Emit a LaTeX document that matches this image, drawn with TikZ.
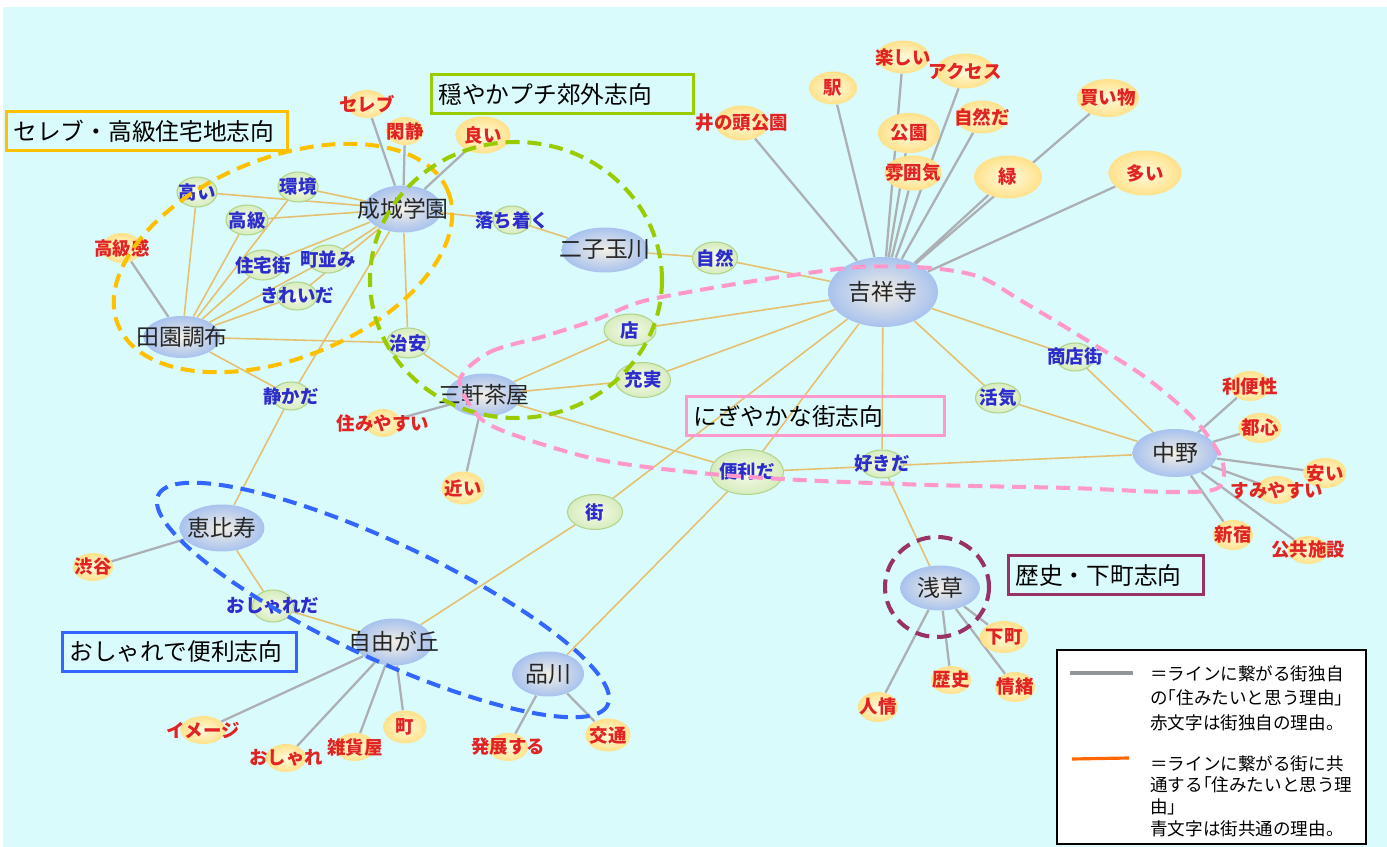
\documentclass[tikz,border=0pt]{standalone}
\usepackage{fontspec}
\setmainfont{Noto Sans CJK JP}
\usepackage{tikz}
\usetikzlibrary{
    shapes.geometric,
    backgrounds,
    positioning
}
\definecolor{bgCyan}{RGB}{218, 251, 251}
\definecolor{townIn}{RGB}{243, 239, 229}
\definecolor{townOut}{RGB}{168, 194, 238}
\definecolor{commonIn}{RGB}{246, 251, 234}
\definecolor{commonOut}{RGB}{214, 236, 190}
\definecolor{commonLine}{RGB}{178, 212, 138}
\definecolor{ownIn}{RGB}{255, 251, 222}
\definecolor{ownOut}{RGB}{255, 225, 138}
\definecolor{reasonRed}{RGB}{225, 35, 35}
\definecolor{reasonBlue}{RGB}{45, 45, 205}
\definecolor{lineGray}{RGB}{172, 176, 180}
\definecolor{lineTan}{RGB}{228, 192, 112}
\definecolor{groupOrange}{RGB}{255, 192, 0}
\definecolor{groupGreen}{RGB}{153, 204, 0}
\definecolor{groupPink}{RGB}{255, 153, 204}
\definecolor{groupBlue}{RGB}{51, 102, 255}
\definecolor{groupMaroon}{RGB}{153, 51, 102}
\definecolor{legendOrange}{RGB}{255, 102, 0}
\tikzset{
    % 街のノード(青い楕円)
    town/.style={
        ellipse,
        shade, inner color=townIn, outer color=townOut,
        inner xsep=-30pt, inner ysep=-4pt,
        minimum width=16mm, minimum height=9mm,
        font=\fontsize{13}{15}\selectfont,
        text=black!85
    },
    % 街に共通する理由(青文字)
    common/.style={
        ellipse,
        draw=commonLine, line width=0.6pt,
        shade, inner color=commonIn, outer color=commonOut,
        inner xsep=-30pt, inner ysep=-4pt,
        minimum width=8.4mm, minimum height=6mm,
        font=\fontsize{10.5}{12}\selectfont\bfseries,
        text=reasonBlue
    },
    % 街独自の理由(赤文字)
    own/.style={
        ellipse,
        shade, inner color=ownIn, outer color=ownOut,
        inner xsep=-30pt, inner ysep=-4pt,
        minimum width=8.4mm, minimum height=6mm,
        font=\fontsize{10.5}{12}\selectfont\bfseries,
        text=reasonRed
    },
    % 楕円の大きさ
    dims/.style 2 args={minimum width=#1mm, minimum height=#2mm},
    % 線
    tie/.style={draw=lineTan, line width=0.9pt},
    solo/.style={draw=lineGray, line width=1.3pt},
    % グループの破線
    group/.style={line width=2.3pt, dash pattern=on 8pt off 4.5pt},
    % 志向のラベル
    groupbox/.style={
        draw, line width=1.7pt,
        anchor=west,
        inner xsep=4pt, inner ysep=0pt,
        minimum height=22pt,
        align=left,
        font=\fontsize{13.5}{15}\selectfont
    }
}
\begin{document}
\begin{tikzpicture}[x=0.02cm, y=-0.02cm]

    \useasboundingbox (0,0) rectangle (1387,847);

    % [1] 街
    \node[town, dims={15.6}{9.4}] (seijo) at (403,209) {成城学園};
    \node[town, dims={15.4}{8.4}] (denen) at (182,337) {田園調布};
    \node[town, dims={17.4}{9}] (futako) at (605,250) {二子玉川};
    \node[town, dims={15}{8.6}] (sancha) at (484,395) {三軒茶屋};
    \node[town, dims={22}{14}] (kichi) at (883,292) {吉祥寺};
    \node[town, dims={17}{9.6}] (nakano) at (1175,453) {中野};
    \node[town, dims={17}{9.4}] (ebisu) at (222,528) {恵比寿};
    \node[town, dims={15.4}{9.4}] (jiyu) at (394,642) {自由が丘};
    \node[town, dims={14.4}{9}] (shina) at (548,674) {品川};
    \node[town, dims={16}{9}] (asakusa) at (940,588) {浅草};

    % [2] 共通の理由
    \node[common, dims={8}{6}] (takai) at (197,192) {高い};
    \node[common, dims={8}{6}] (kankyo) at (298,187) {環境};
    \node[common] (kokyu) at (247,220) {高級};
    \node[common] (jutaku) at (263,265) {住宅街};
    \node[common, dims={8}{5.6}] (machinami) at (328,259) {町並み};
    \node[common, dims={8}{5.6}] (kirei) at (297,296) {きれいだ};
    \node[common, dims={7.6}{5.6}] (ochitsuku) at (512,220) {落ち着く};
    \node[common, dims={9}{6.4}] (shizen) at (715,258) {自然};
    \node[common, dims={8.6}{6}] (chian) at (408,343) {治安};
    \node[common, dims={7.6}{5.6}] (shizuka) at (291,396) {静かだ};
    \node[common, dims={10.4}{6.4}] (mise) at (630,330) {店};
    \node[common, dims={11}{7}] (juujitsu) at (643,380) {充実};
    \node[common, dims={14.6}{9}] (benri) at (747,472) {便利だ};
    \node[common, dims={11}{7}] (machi) at (595,512) {街};
    \node[common, dims={8.6}{5.6}] (suki) at (882,464) {好きだ};
    \node[common, dims={9}{6}] (kakki) at (998,398) {活気};
    \node[common, dims={7.6}{5.6}] (shoten) at (1075,357) {商店街};
    \node[common, dims={8.2}{6.4}] (osharda) at (273,606) {おしゃれだ};

    % [3] 独自の理由
    \node[own, dims={8}{5.6}] (celeb) at (367,104) {セレブ};
    \node[own, dims={7.4}{5.6}] (kansei) at (405,131) {閑静};
    \node[own, dims={11}{7.4}] (yoi) at (483,135) {良い};
    \node[own, dims={8}{6}] (kokyukan) at (122,248) {高級感};
    \node[own, dims={7}{5.6}] (sumiyasui) at (383,423) {住みやすい};
    \node[own, dims={8.6}{6.6}] (chikai) at (463,488) {近い};
    \node[own, dims={10.6}{7}] (inokashira) at (742,123) {井の頭公園};
    \node[own, dims={9.6}{6.6}] (eki) at (833,88) {駅};
    \node[own, dims={10.6}{6.6}] (tanoshii) at (903,57) {楽しい};
    \node[own, dims={11.6}{7}] (access) at (965,71) {アクセス};
    \node[own, dims={12.4}{8}] (koen) at (909,133) {公園};
    \node[own, dims={10.4}{6.6}] (shizenda) at (982,117) {自然だ};
    \node[own, dims={11.4}{7}] (fun) at (913,173) {雰囲気};
    \node[own, dims={13.6}{8.6}] (midori) at (1008,177) {緑};
    \node[own, dims={12.4}{7.6}] (kaimono) at (1108,98) {買い物};
    \node[own, dims={14.6}{9}] (ooi) at (1145,173) {多い};
    \node[own, dims={8}{6}] (ribensei) at (1250,386) {利便性};
    \node[own, dims={8.6}{6}] (toshin) at (1260,428) {都心};
    \node[own, dims={8.6}{6}] (yasui) at (1325,473) {安い};
    \node[own, dims={8}{5.6}] (sumiyasui2) at (1277,490) {すみやすい};
    \node[own, dims={8}{6}] (shinjuku) at (1233,535) {新宿};
    \node[own, dims={8}{5.6}] (kokyo) at (1308,550) {公共施設};
    \node[own, dims={8}{5.6}] (shibuya) at (93,567) {渋谷};
    \node[own, dims={9}{5.6}] (image) at (203,730) {イメージ};
    \node[own, dims={8}{5.6}] (oshare) at (286,758) {おしゃれ};
    \node[own, dims={8}{5.6}] (zakka) at (355,747) {雑貨屋};
    \node[own, dims={8.6}{6.6}] (cho) at (405,727) {町};
    \node[own, dims={8}{5.6}] (hatten) at (508,747) {発展する};
    \node[own, dims={9}{6.6}] (kotsu) at (608,735) {交通};
    \node[own, dims={9.6}{6.4}] (shitamachi) at (1004,637) {下町};
    \node[own, dims={8}{5.6}] (rekishi) at (951,680) {歴史};
    \node[own, dims={8}{6}] (jocho) at (1015,687) {情緒};
    \node[own, dims={8}{6}] (ninjo) at (878,707) {人情};

    % 背景と線(ノードの下)
    \begin{scope}[on background layer]
        \fill[white] (0,0) rectangle (1387,847);
        \fill[bgCyan] (3,7) rectangle (1387,847);

        % 共通の理由への線
        \draw[tie] (takai) -- (seijo) (takai) -- (denen);
        \draw[tie] (kankyo) -- (seijo) (kankyo) -- (denen);
        \draw[tie] (kokyu) -- (seijo) (kokyu) -- (denen);
        \draw[tie] (jutaku) -- (seijo) (jutaku) -- (denen);
        \draw[tie] (machinami) -- (seijo) (machinami) -- (denen);
        \draw[tie] (kirei) -- (seijo) (kirei) -- (denen);
        \draw[tie] (chian) -- (seijo) (chian) -- (denen) (chian) -- (sancha);
        \draw[tie] (shizuka) -- (seijo) (shizuka) -- (denen) (shizuka) -- (ebisu);
        \draw[tie] (ochitsuku) -- (seijo) (ochitsuku) -- (futako);
        \draw[tie] (shizen) -- (futako) (shizen) -- (kichi);
        \draw[tie] (mise) -- (sancha) (mise) -- (kichi);
        \draw[tie] (juujitsu) -- (sancha) (juujitsu) -- (kichi);
        \draw[tie] (benri) -- (sancha) (benri) -- (kichi) (benri) -- (nakano) (benri) -- (shina);
        \draw[tie] (suki) -- (kichi) (suki) -- (asakusa);
        \draw[tie] (kakki) -- (kichi) (kakki) -- (nakano);
        \draw[tie] (shoten) -- (kichi) (shoten) -- (nakano);
        \draw[tie] (machi) -- (kichi) (machi) -- (jiyu);
        \draw[tie] (osharda) -- (ebisu) (osharda) -- (jiyu);

        % 独自の理由への線
        \draw[solo] (seijo) -- (celeb) (seijo) -- (kansei) (seijo) -- (yoi);
        \draw[solo] (denen) -- (kokyukan);
        \draw[solo] (sancha) -- (sumiyasui) (sancha) -- (chikai);
        \draw[solo] (kichi) -- (inokashira) (kichi) -- (eki) (kichi) -- (tanoshii)
                    (kichi) -- (access) (kichi) -- (koen) (kichi) -- (shizenda)
                    (kichi) -- (fun) (kichi) -- (midori) (kichi) -- (kaimono)
                    (kichi) -- (ooi);
        \draw[solo] (nakano) -- (ribensei) (nakano) -- (toshin) (nakano) -- (yasui)
                    (nakano) -- (sumiyasui2) (nakano) -- (shinjuku) (nakano) -- (kokyo);
        \draw[solo] (ebisu) -- (shibuya);
        \draw[solo] (jiyu) -- (image) (jiyu) -- (oshare) (jiyu) -- (zakka) (jiyu) -- (cho);
        \draw[solo] (shina) -- (hatten) (shina) -- (kotsu);
        \draw[solo] (asakusa) -- (shitamachi) (asakusa) -- (rekishi)
                    (asakusa) -- (jocho) (asakusa) -- (ninjo);
    \end{scope}

    % [4] グループの破線
    \draw[group, groupOrange, rotate around={22:(283,258)}]
        (283,258) ellipse [x radius=178, y radius=100];
    \draw[group, groupGreen] (516,280) ellipse [x radius=146, y radius=138];
    \draw[group, groupPink] plot[smooth cycle] coordinates {
        (460,380) (490,352) (545,336) (595,320) (640,302) (700,290)
        (780,277) (860,267) (930,268) (980,277) (1020,300) (1075,333)
        (1145,377) (1195,420) (1222,460) (1218,488) (1170,492) (1070,488)
        (930,485) (800,480) (700,473) (600,460) (520,437) (480,418)
    };
    \draw[group, groupBlue, rotate around={-25:(383,600)}]
        (383,600) ellipse [x radius=248, y radius=58];
    \draw[group, groupMaroon] (937,587) ellipse [x radius=52, y radius=50];

    % [5] 志向のラベル
    \node[groupbox, draw=groupOrange, text width=152pt] (celebbox) at (5,131) {セレブ・高級住宅地志向};
    \node[groupbox, draw=groupGreen, text width=141pt] (odayakabox) at (430,94) {穏やかプチ郊外志向};
    \node[groupbox, draw=groupPink, text width=139pt] (nigiyakabox) at (685,416) {にぎやかな街志向};
    \node[groupbox, draw=groupMaroon, text width=103pt] (rekishibox) at (1007,575) {歴史・下町志向};
    \node[groupbox, draw=groupBlue, text width=125pt] (osharebox) at (61,652) {おしゃれで便利志向};

    % [6] 凡例
    \node[draw=black, line width=0.9pt, fill=white, anchor=north west,
          minimum width=6.18cm, minimum height=3.88cm, inner sep=0pt] (legend) at (1056,649) {};
    \coordinate (g1) at (1070,673);
    \coordinate (g2) at (1133,673);
    \coordinate (o1) at (1072,759);
    \coordinate (o2) at (1129,758);
    \draw[lineGray!85!black, line width=2.3pt] (g1) -- (g2);
    \draw[legendOrange, line width=1.8pt] (o1) -- (o2);
    \node[anchor=north west, inner sep=0pt, align=left, font=\fontsize{10}{14}\selectfont]
        (legendsolo) at (1150,665) {＝ラインに繋がる街独自\\の｢住みたいと思う理由｣\\赤文字は街独自の理由。};
    \node[anchor=north west, inner sep=0pt, align=left, font=\fontsize{10}{12.3}\selectfont]
        (legendtie) at (1150,755) {＝ラインに繋がる街に共\\通する｢住みたいと思う理\\由｣\\青文字は街共通の理由。};

\end{tikzpicture}
\end{document}
